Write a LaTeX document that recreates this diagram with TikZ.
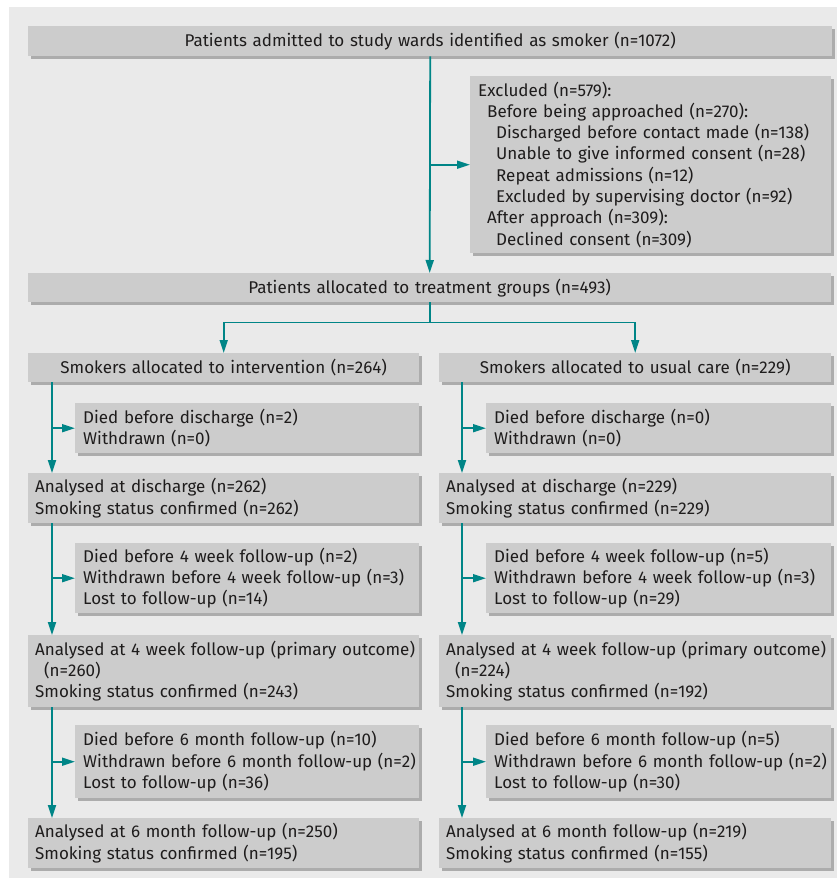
\documentclass[tikz,border=0pt]{standalone}
\usepackage{fontspec}
\setmainfont{Fira Sans}
\usetikzlibrary{positioning,arrows.meta,shadows}
\definecolor{flowteal}{RGB}{0,133,135}
\definecolor{boxgray}{RGB}{204,204,204}
\definecolor{shadegray}{RGB}{172,172,172}
\definecolor{bggray}{RGB}{234,234,234}
\definecolor{inkgray}{RGB}{30,28,28}
\tikzset{
  >={Triangle[length=13pt,width=8pt]},
  flowbox/.style={fill=boxgray,anchor=north west,inner xsep=7pt,inner ysep=0pt,
    align=left,text=inkgray,font=\fontsize{17}{21.3}\selectfont,
    drop shadow={shadow xshift=3pt,shadow yshift=-3pt,fill=shadegray,opacity=1}},
  headbox/.style={flowbox,align=center},
  sidebox/.style={flowbox,inner xsep=8pt},
  flow/.style={->,draw=flowteal,line width=1.8pt},
  branch/.style={draw=flowteal,line width=1.8pt},
}
\newcommand{\ind}{\hspace*{9pt}}

\begin{document}
\begin{tikzpicture}[x=1pt,y=-1pt]
  \useasboundingbox (0,0) rectangle (837,880);
  \fill[bggray] (9,7) rectangle (837,878);

  % enrolment
  \node[headbox,text width=790pt,minimum height=30pt] (admit) at (28,26)
    {Patients admitted to study wards identified as smoker (n=1072)};
  \node[sidebox,text width=345pt,minimum height=177pt] (excl) at (470,76)
    {Excluded (n=579):\\
     \ind Before being approached (n=270):\\
     \ind\ind Discharged before contact made (n=138)\\
     \ind\ind Unable to give informed consent (n=28)\\
     \ind\ind Repeat admissions (n=12)\\
     \ind\ind Excluded by supervising doctor (n=92)\\
     \ind After approach (n=309):\\
     \ind\ind Declined consent (n=309)};
  \node[headbox,text width=789pt,minimum height=29pt] (alloc) at (28,273)
    {Patients allocated to treatment groups (n=493)};

  % intervention arm
  \node[headbox,text width=377pt,minimum height=29pt] (intv) at (28,353)
    {Smokers allocated to intervention (n=264)};
  \node[sidebox,text width=328pt,minimum height=50pt] (diedL1) at (75,403)
    {Died before discharge (n=2)\\Withdrawn (n=0)};
  \node[flowbox,text width=377pt,minimum height=50pt] (anaL1) at (28,473)
    {Analysed at discharge (n=262)\\Smoking status confirmed (n=262)};
  \node[sidebox,text width=328pt,minimum height=70pt] (diedL2) at (75,543)
    {Died before 4 week follow-up (n=2)\\
     \mbox{Withdrawn before 4 week follow-up (n=3)}\\
     Lost to follow-up (n=14)};
  \node[flowbox,text width=377pt,minimum height=72pt] (anaL2) at (28,635)
    {\mbox{Analysed at 4 week follow-up (primary outcome)}\\
     \ind(n=260)\\
     Smoking status confirmed (n=243)};
  \node[sidebox,text width=328pt,minimum height=73pt] (diedL3) at (75,725)
    {Died before 6 month follow-up (n=10)\\
     \mbox{Withdrawn before 6 month follow-up (n=2)}\\
     Lost to follow-up (n=36)};
  \node[flowbox,text width=377pt,minimum height=50pt] (anaL3) at (28,818)
    {Analysed at 6 month follow-up (n=250)\\Smoking status confirmed (n=195)};

  % usual care arm
  \node[headbox,text width=378pt,minimum height=29pt] (usual) at (439,353)
    {Smokers allocated to usual care (n=229)};
  \node[sidebox,text width=329pt,minimum height=50pt] (diedR1) at (486,403)
    {Died before discharge (n=0)\\Withdrawn (n=0)};
  \node[flowbox,text width=378pt,minimum height=50pt] (anaR1) at (439,473)
    {Analysed at discharge (n=229)\\Smoking status confirmed (n=229)};
  \node[sidebox,text width=329pt,minimum height=70pt] (diedR2) at (486,543)
    {Died before 4 week follow-up (n=5)\\
     \mbox{Withdrawn before 4 week follow-up (n=3)}\\
     Lost to follow-up (n=29)};
  \node[flowbox,text width=378pt,minimum height=72pt] (anaR2) at (439,635)
    {\mbox{Analysed at 4 week follow-up (primary outcome)}\\
     \ind(n=224)\\
     Smoking status confirmed (n=192)};
  \node[sidebox,text width=329pt,minimum height=73pt] (diedR3) at (486,725)
    {Died before 6 month follow-up (n=5)\\
     \mbox{Withdrawn before 6 month follow-up (n=2)}\\
     Lost to follow-up (n=30)};
  \node[flowbox,text width=378pt,minimum height=50pt] (anaR3) at (439,818)
    {Analysed at 6 month follow-up (n=219)\\Smoking status confirmed (n=155)};

  % connectors
  \coordinate (spineL) at (52,0);
  \coordinate (spineR) at (462,0);
  \coordinate[below=20pt of alloc.south] (split);

  \draw[flow] (admit.south) -- (alloc.north);
  \draw[flow] (admit.south |- excl.west) -- (excl.west);
  \draw[branch] (alloc.south) -- (split);
  \draw[flow] (split) -| (intv.north);
  \draw[flow] (split) -| (usual.north);

  \draw[flow] (intv.south -| spineL) -- (anaL1.north -| spineL);
  \draw[flow] (spineL |- diedL1.west) -- (diedL1.west);
  \draw[flow] (anaL1.south -| spineL) -- (anaL2.north -| spineL);
  \draw[flow] (spineL |- diedL2.west) -- (diedL2.west);
  \draw[flow] (anaL2.south -| spineL) -- (anaL3.north -| spineL);
  \draw[flow] (spineL |- diedL3.west) -- (diedL3.west);

  \draw[flow] (usual.south -| spineR) -- (anaR1.north -| spineR);
  \draw[flow] (spineR |- diedR1.west) -- (diedR1.west);
  \draw[flow] (anaR1.south -| spineR) -- (anaR2.north -| spineR);
  \draw[flow] (spineR |- diedR2.west) -- (diedR2.west);
  \draw[flow] (anaR2.south -| spineR) -- (anaR3.north -| spineR);
  \draw[flow] (spineR |- diedR3.west) -- (diedR3.west);
\end{tikzpicture}
\end{document}
